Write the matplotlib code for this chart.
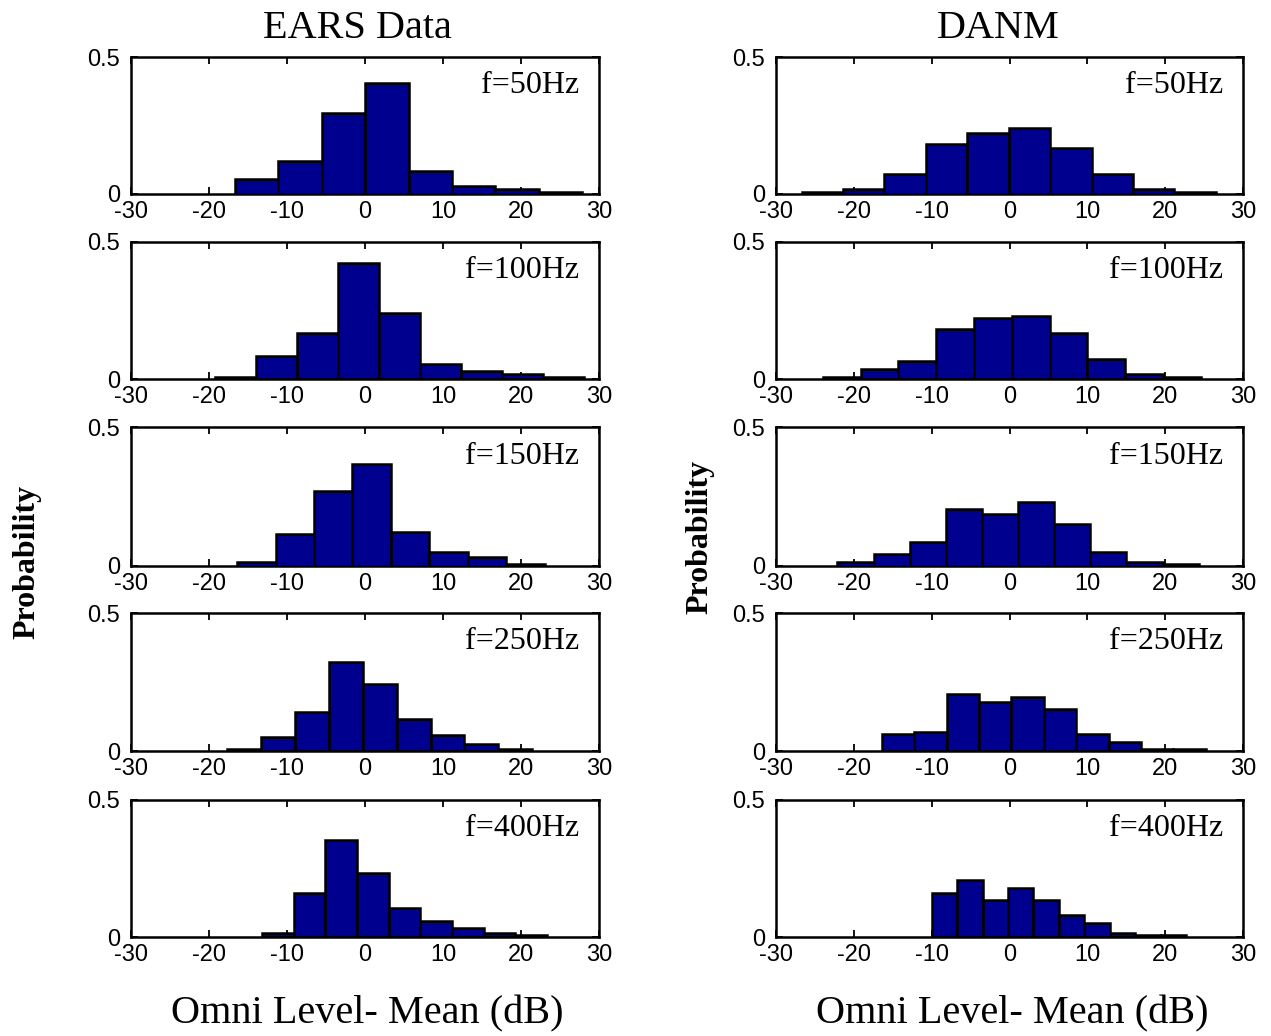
import numpy as np
import matplotlib
matplotlib.use("Agg")
import matplotlib.pyplot as plt

plt.rcParams['axes.unicode_minus'] = False

freqs = ["f=50Hz", "f=100Hz", "f=150Hz", "f=250Hz", "f=400Hz"]
col_titles = ["EARS Data", "DANM"]

# EARS Data bin edges (dB) and probabilities
ears_edges_50 = [-16.7, -11.13, -5.56, 0.01, 5.58, 11.15, 16.72, 22.29, 27.86]
ears_prob_50 = [0.056, 0.12, 0.296, 0.405, 0.083, 0.028, 0.0185, 0.009]
ears_edges_100 = [-19.2, -13.94, -8.68, -3.42, 1.84, 7.1, 12.36, 17.62, 22.88, 28.14]
ears_prob_100 = [0.009, 0.083, 0.167, 0.422, 0.24, 0.056, 0.028, 0.0185, 0.009]
ears_edges_150 = [-16.4, -11.47, -6.54, -1.61, 3.32, 8.25, 13.18, 18.11, 23.04]
ears_prob_150 = [0.013, 0.115, 0.268, 0.366, 0.123, 0.052, 0.034, 0.007]
ears_edges_250 = [-17.7, -13.35, -9.0, -4.65, -0.3, 4.05, 8.4, 12.75, 17.1, 21.45]
ears_prob_250 = [0.006, 0.05, 0.14, 0.321, 0.242, 0.115, 0.058, 0.024, 0.006]
ears_edges_400 = [-13.2, -9.14, -5.08, -1.02, 3.04, 7.1, 11.16, 15.22, 19.28, 23.34]
ears_prob_400 = [0.013, 0.161, 0.353, 0.235, 0.107, 0.058, 0.034, 0.013, 0.006]

# DANM bin edges (dB) and probabilities
danm_edges_50 = [-26.7, -21.38, -16.06, -10.74, -5.42, -0.1, 5.22, 10.54, 15.86, 21.18, 26.5]
danm_prob_50 = [0.009, 0.0185, 0.074, 0.184, 0.221, 0.24, 0.167, 0.073, 0.0185, 0.009]
danm_edges_100 = [-24.0, -19.14, -14.28, -9.42, -4.56, 0.3, 5.16, 10.02, 14.88, 19.74, 24.6]
danm_prob_100 = [0.009, 0.036, 0.064, 0.184, 0.221, 0.231, 0.167, 0.074, 0.0185, 0.009]
danm_edges_150 = [-22.1, -17.46, -12.82, -8.18, -3.54, 1.1, 5.74, 10.38, 15.02, 19.66, 24.3]
danm_prob_150 = [0.016, 0.042, 0.088, 0.204, 0.186, 0.232, 0.150, 0.052, 0.016, 0.007]
danm_edges_250 = [-16.4, -12.24, -8.08, -3.92, 0.24, 4.4, 8.56, 12.72, 16.88, 21.04, 25.2]
danm_prob_250 = [0.06, 0.07, 0.205, 0.178, 0.194, 0.151, 0.06, 0.034, 0.006, 0.006]
danm_edges_400 = [-10.0, -6.73, -3.46, -0.19, 3.08, 6.35, 9.62, 12.89, 16.16, 19.43, 22.7]
danm_prob_400 = [0.161, 0.207, 0.134, 0.179, 0.134, 0.079, 0.05, 0.013, 0.006, 0.006]

xticks = [-30, -20, -10, 0, 10, 20, 30]
yticks = [0, 0.5]
ytick_labels = ["0", "0.5"]

ears = [(ears_edges_50, ears_prob_50), (ears_edges_100, ears_prob_100),
        (ears_edges_150, ears_prob_150), (ears_edges_250, ears_prob_250),
        (ears_edges_400, ears_prob_400)]
danm = [(danm_edges_50, danm_prob_50), (danm_edges_100, danm_prob_100),
        (danm_edges_150, danm_prob_150), (danm_edges_250, danm_prob_250),
        (danm_edges_400, danm_prob_400)]

W, H = 1271, 1036
fig = plt.figure(figsize=(W / 100, H / 100), dpi=100)

col_x = [(131, 599), (776, 1243)]
rows_y = [(57, 194), (242, 379), (427, 566), (613, 751), (800, 937)]

bar_color = (0, 0, 0.5625)
serif = "Liberation Serif"
sans = "Liberation Sans"

for c, data in enumerate([ears, danm]):
    x0, x1 = col_x[c]
    for r, (edges, prob) in enumerate(data):
        y0, y1 = rows_y[r]
        ax = fig.add_axes([x0 / W, 1 - y1 / H, (x1 - x0) / W, (y1 - y0) / H])
        e = np.array(edges)
        ax.bar(e[:-1], prob, width=np.diff(e), align='edge', color=bar_color,
               edgecolor='black', linewidth=1.8, zorder=2)
        ax.set_xlim(-30, 30)
        ax.set_ylim(0, 0.5)
        ax.set_xticks(xticks)
        ax.set_xticklabels([str(t) for t in xticks], fontfamily=sans, fontsize=17)
        ax.set_yticks(yticks)
        ax.set_yticklabels(ytick_labels, fontfamily=sans, fontsize=17)
        ax.tick_params(direction='in', top=True, right=True, length=5, width=1.3)
        ax.tick_params(axis='x', pad=5)
        ax.tick_params(axis='y', pad=8)
        for s in ax.spines.values():
            s.set_linewidth(1.8)
            s.set_zorder(3)
        ax.text(0.957, 0.79, freqs[r], transform=ax.transAxes, ha='right', va='center',
                fontfamily=serif, fontsize=23)

# column titles
fig.text(357 / W, 1 - 38 / H, col_titles[0], ha='center', va='baseline',
         fontfamily=serif, fontsize=29)
fig.text(998 / W, 1 - 38 / H, col_titles[1], ha='center', va='baseline',
         fontfamily=serif, fontsize=29)

# x labels
for cx in (367, 1012):
    fig.text(cx / W, 1 - 1023 / H, "Omni Level- Mean (dB)", ha='center', va='baseline',
             fontfamily=serif, fontsize=29)

# y labels
fig.text(27 / W, 1 - 562 / H, "Probability", rotation=90, ha='center', va='center',
         fontfamily=serif, fontweight='bold', fontsize=23)
fig.text(700 / W, 1 - 537 / H, "Probability", rotation=90, ha='center', va='center',
         fontfamily=serif, fontweight='bold', fontsize=23)

fig.savefig("out.png", dpi=100)
